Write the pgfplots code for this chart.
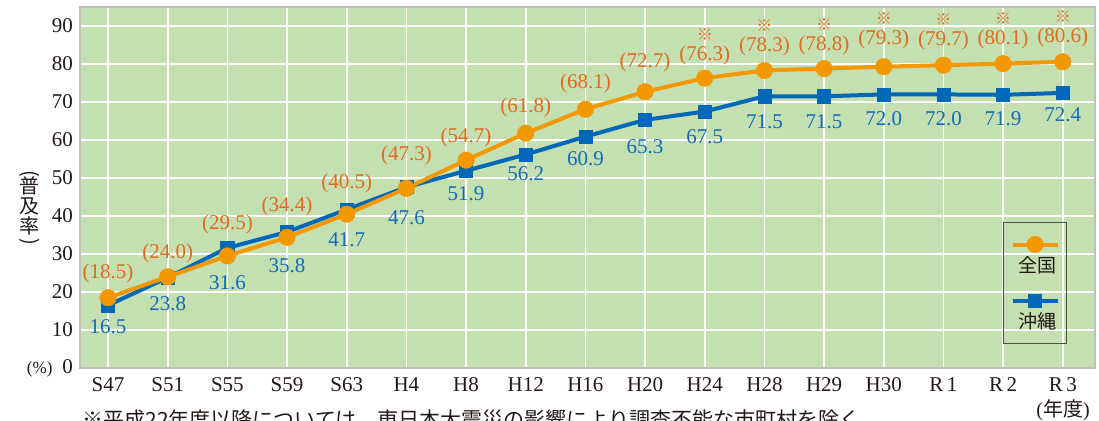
\documentclass[border=0pt]{standalone}
\usepackage{pgfplots}
\pgfplotsset{compat=1.18}
\usepackage{pgfplotstable}
\usepackage{graphicx}
\usepackage{fontspec}
\setmainfont{Liberation Serif}
\newfontfamily\cjk{Noto Sans CJK JP}
\definecolor{bggreen}{RGB}{196,223,176}
\definecolor{cor}{RGB}{243,152,0}
\definecolor{cortext}{RGB}{226,106,28}
\definecolor{cbl}{RGB}{0,104,183}
\definecolor{cbltext}{RGB}{16,108,186}
\definecolor{tickc}{RGB}{35,24,21}

\pgfplotstableread{
x y dy sdy
0 18.5 12 0
1 24.0 11.5 0
2 29.5 15.5 0
3 34.4 15.5 0
4 40.5 15.5 0
5 47.3 16.5 0
6 54.7 11.5 0
7 61.8 13 0
8 68.1 13 0
9 72.7 14.5 0
10 76.3 11.5 22
11 78.3 12 22.5
12 78.8 11.5 22
13 79.3 13.5 24
14 79.7 12.5 23
15 80.1 12 22.5
16 80.6 12 22.5
}\zenkoku

\pgfplotstableread{
x y dy
0 16.5 -10.5
1 23.8 -13
2 31.6 -17.5
3 35.8 -17
4 41.7 -15
5 47.6 -15.5
6 51.9 -11.5
7 56.2 -9.5
8 60.9 -11
9 65.3 -13.5
10 67.5 -12.5
11 71.5 -12.5
12 71.5 -12.5
13 72.0 -12
14 72.0 -12
15 71.9 -12
16 72.4 -11
}\okinawa

\begin{document}
\begin{tikzpicture}
\begin{axis}[
  at={(0,0)}, anchor=south west,
  scale only axis, width=507.5pt, height=180.5pt,
  xmin=-0.47, xmax=16.54, ymin=0, ymax=95,
  axis background/.style={fill=bggreen},
  axis line style={draw=black!25, line width=0.6pt},
  xtick={0,...,16},
  xticklabels={S47,S51,S55,S59,S63,H4,H8,H12,H16,H20,H24,H28,H29,H30,R\,1,R\,2,R\,3},
  ytick={0,10,...,90},
  yticklabels={{\llap{\fontsize{8.5}{9}\selectfont(\%)\hspace{5pt}}0},10,20,30,40,50,60,70,80,90},
  major tick length=0pt,
  grid=major,
  major grid style={white, line width=0.8pt},
  tick label style={font=\fontsize{10.5}{12}\selectfont, text=tickc},
  xticklabel style={anchor=center, yshift=-8.5pt},
  clip=false,
  /pgf/number format/assume math mode=true,
  reverse legend,
  legend style={
    at={(0.9094,0.0665)}, anchor=south west,
    draw=black!70, line width=0.5pt, fill=none,
    inner xsep=0pt, inner ysep=2.25pt,
    column sep=0pt, row sep=0pt,
    nodes={font=\cjk\fontsize{9.5}{10}\selectfont, text=tickc, inner sep=0pt,
           minimum width=29.5pt, text height=22.85pt, text depth=5.15pt, anchor=base},
  },
  legend image code/.code={%
    \path (0pt,0pt);
    \draw[overlay, mark repeat=2, mark phase=2, #1] plot coordinates {(3.5pt,14.1pt) (14.75pt,14.1pt) (26pt,14.1pt)};
  },
]
\addplot[cbl, line width=2pt, mark=square*, mark size=3.3pt, mark options={solid, line width=0.3pt},
  point meta=y, visualization depends on={\thisrow{dy}\as\dy},
  nodes near coords={\pgfmathprintnumber[fixed,fixed zerofill,precision=1]{\pgfplotspointmeta}},
  every node near coord/.append style={anchor=center, inner sep=0pt, yshift=\dy pt, text=cbltext, font=\fontsize{10.5}{11}\selectfont}]
  table[x=x,y=y]{\okinawa};
\addlegendentry{沖縄}
\addplot[cor, line width=2pt, mark=*, mark size=4.1pt, mark options={solid, line width=0.3pt},
  point meta=y, visualization depends on={\thisrow{dy}\as\dy},
  nodes near coords={(\pgfmathprintnumber[fixed,fixed zerofill,precision=1]{\pgfplotspointmeta})},
  every node near coord/.append style={anchor=center, inner sep=0pt, yshift=\dy pt, text=cortext, font=\fontsize{10.5}{11}\selectfont}]
  table[x=x,y=y]{\zenkoku};
\addlegendentry{全国}
\addplot[draw=none, forget plot, restrict x to domain=9.5:16.5, point meta=y,
  visualization depends on={\thisrow{sdy}\as\sdy},
  nodes near coords={\cjk ※},
  every node near coord/.append style={anchor=center, inner sep=0pt, yshift=\sdy pt, text=cortext, font=\fontsize{8}{8}\selectfont}]
  table[x=x,y=y]{\zenkoku};
\end{axis}
\node[font=\cjk\fontsize{10}{10}\selectfont, align=center, inner sep=0pt, text=tickc] at (-25pt,79.5pt)
  {\rotatebox[origin=c]{-90}{(}\\[-3pt]普\\及\\率\\[-3pt]\rotatebox[origin=c]{-90}{)}};
\node[anchor=north west, inner sep=0pt, font=\cjk\fontsize{10.5}{12}\selectfont, text=tickc] at (1pt,-20.5pt)
  {※平成22年度以降については，東日本大震災の影響により調査不能な市町村を除く};
\node[font=\fontsize{10}{12}\selectfont, text=tickc, inner sep=0pt] at (491.5pt,-21pt) {({\cjk 年度})};
\pgfresetboundingbox
\path[use as bounding box] (-40pt,-26pt) rectangle (509.5pt,184pt);
\end{tikzpicture}
\end{document}
